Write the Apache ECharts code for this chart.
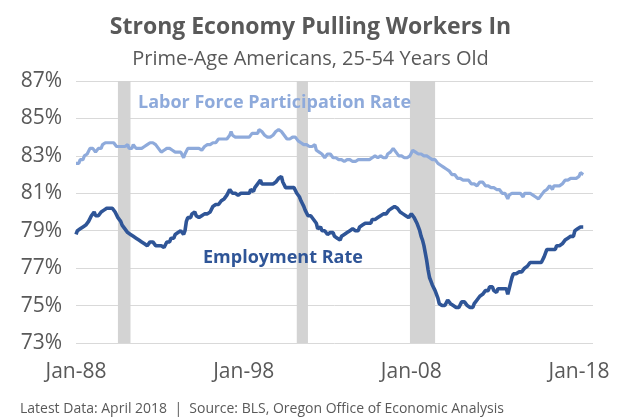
<!DOCTYPE html>
<html>
<head>
<meta charset="utf-8">
<title>Strong Economy Pulling Workers In</title>
<script src="https://cdn.jsdelivr.net/npm/echarts@6/dist/echarts.min.js"></script>
<style>
  html, body { margin: 0; padding: 0; background: #fff; }
  #chart { width: 621px; height: 419px; }
</style>
</head>
<body>
<div id="chart"></div>
<script>
// monthly data, Jan-88 .. Apr-18 (one row per year)
var employmentRate = [
  78.8, 79.0, 78.9, 79.1, 79.0, 79.2, 79.1, 79.3, 79.2, 79.5, 79.6, 79.8, // 1988
  79.9, 80.0, 79.8, 79.9, 79.8, 79.9, 80.0, 79.9, 80.1, 80.0, 80.2, 80.1, // 1989
  80.2, 80.1, 80.2, 80.2, 80.0, 79.9, 79.7, 79.6, 79.5, 79.3, 79.2, 79.1, // 1990
  79.0, 78.9, 79.0, 78.8, 78.7, 78.7, 78.6, 78.6, 78.5, 78.5, 78.4, 78.4, // 1991
  78.3, 78.3, 78.2, 78.2, 78.3, 78.4, 78.3, 78.4, 78.3, 78.2, 78.3, 78.2, // 1992
  78.2, 78.2, 78.1, 78.1, 78.2, 78.4, 78.5, 78.4, 78.6, 78.7, 78.6, 78.8, // 1993
  78.9, 78.9, 78.8, 79.0, 78.9, 78.8, 79.0, 79.5, 79.7, 79.8, 79.7, 79.9, // 1994
  79.9, 80.0, 79.8, 79.9, 79.7, 79.7, 79.8, 79.7, 79.9, 79.8, 79.9, 80.0, // 1995
  80.0, 80.1, 80.3, 80.2, 80.4, 80.5, 80.4, 80.5, 80.6, 80.6, 80.7, 80.8, // 1996
  80.9, 81.0, 81.2, 81.1, 81.0, 81.1, 81.0, 81.0, 80.9, 81.0, 81.0, 81.1, // 1997
  81.0, 81.0, 81.0, 81.1, 81.0, 81.2, 81.2, 81.1, 81.3, 81.4, 81.5, 81.6, // 1998
  81.7, 81.5, 81.4, 81.5, 81.4, 81.5, 81.4, 81.5, 81.6, 81.5, 81.6, 81.6, // 1999
  81.7, 81.8, 81.8, 81.9, 81.6, 81.5, 81.3, 81.4, 81.3, 81.4, 81.3, 81.4, // 2000
  81.3, 81.2, 81.0, 80.9, 80.8, 80.6, 80.5, 80.3, 80.1, 80.0, 79.8, 79.7, // 2001
  79.8, 79.7, 79.6, 79.7, 79.4, 79.1, 79.2, 79.2, 79.0, 78.9, 79.0, 78.9, // 2002
  78.8, 78.9, 78.9, 78.8, 78.9, 78.7, 78.7, 78.6, 78.6, 78.5, 78.7, 78.7, // 2003
  78.8, 78.8, 78.9, 78.8, 79.0, 78.9, 79.1, 79.0, 79.0, 79.1, 79.0, 79.2, // 2004
  79.2, 79.3, 79.2, 79.4, 79.3, 79.4, 79.5, 79.4, 79.6, 79.5, 79.6, 79.6, // 2005
  79.7, 79.6, 79.8, 79.7, 79.9, 79.8, 79.9, 80.0, 80.1, 80.0, 80.2, 80.2, // 2006
  80.3, 80.2, 80.2, 80.1, 80.0, 80.0, 79.9, 79.8, 79.8, 79.7, 79.7, 79.8, // 2007
  79.9, 79.8, 79.7, 79.6, 79.4, 79.2, 79.0, 78.7, 78.5, 78.2, 77.8, 77.4, // 2008
  76.9, 76.5, 76.3, 76.1, 76.0, 75.8, 75.7, 75.4, 75.1, 75.0, 75.0, 74.9, // 2009
  75.0, 75.1, 75.3, 75.2, 75.1, 75.0, 75.0, 75.1, 74.9, 75.0, 74.9, 75.0, // 2010
  75.2, 75.3, 75.2, 75.1, 75.0, 75.0, 74.9, 75.0, 74.9, 75.1, 75.2, 75.3, // 2011
  75.4, 75.5, 75.6, 75.6, 75.7, 75.8, 75.7, 75.8, 76.0, 75.9, 76.0, 75.8, // 2012
  75.8, 75.7, 75.9, 75.8, 75.9, 76.0, 75.9, 76.0, 75.9, 75.6, 75.9, 76.2, // 2013
  76.5, 76.7, 76.6, 76.7, 76.6, 76.8, 76.9, 76.8, 76.9, 77.0, 77.0, 77.1, // 2014
  77.2, 77.3, 77.2, 77.3, 77.4, 77.3, 77.2, 77.3, 77.2, 77.3, 77.4, 77.6, // 2015
  77.8, 78.0, 77.9, 78.0, 77.9, 78.0, 78.1, 78.0, 78.2, 78.1, 78.2, 78.3, // 2016
  78.3, 78.4, 78.5, 78.4, 78.6, 78.5, 78.7, 78.8, 78.7, 79.0, 78.9, 79.1, // 2017
  79.0, 79.2, 79.1, 79.2                                                  // 2018
];

var participationRate = [
  82.6, 82.7, 82.6, 82.8, 82.7, 82.8, 83.0, 82.9, 83.1, 83.2, 83.4, 83.3, // 1988
  83.4, 83.3, 83.2, 83.2, 83.4, 83.3, 83.4, 83.6, 83.5, 83.7, 83.8, 83.7, // 1989
  83.8, 83.7, 83.6, 83.7, 83.6, 83.5, 83.6, 83.5, 83.6, 83.5, 83.4, 83.5, // 1990
  83.5, 83.6, 83.4, 83.5, 83.4, 83.6, 83.5, 83.4, 83.5, 83.4, 83.3, 83.4, // 1991
  83.4, 83.5, 83.4, 83.6, 83.5, 83.7, 83.8, 83.7, 83.6, 83.6, 83.5, 83.4, // 1992
  83.3, 83.2, 83.1, 83.3, 83.2, 83.4, 83.5, 83.4, 83.4, 83.3, 83.4, 83.2, // 1993
  83.3, 83.2, 83.1, 83.2, 83.1, 82.9, 83.1, 83.2, 83.4, 83.3, 83.4, 83.3, // 1994
  83.4, 83.5, 83.4, 83.3, 83.4, 83.4, 83.3, 83.4, 83.5, 83.5, 83.6, 83.5, // 1995
  83.6, 83.5, 83.7, 83.6, 83.7, 83.8, 83.9, 84.0, 83.9, 84.0, 83.9, 84.0, // 1996
  83.9, 84.0, 84.1, 84.3, 84.1, 84.0, 84.0, 83.9, 84.0, 84.1, 84.0, 84.1, // 1997
  84.0, 84.1, 84.0, 84.1, 84.0, 84.1, 84.2, 84.1, 84.2, 84.3, 84.2, 84.4, // 1998
  84.5, 84.3, 84.2, 84.1, 84.1, 84.0, 84.1, 84.0, 84.0, 84.1, 84.2, 84.3, // 1999
  84.3, 84.4, 84.3, 84.3, 84.2, 84.1, 84.0, 83.9, 83.8, 83.9, 84.0, 84.0, // 2000
  83.9, 84.0, 83.9, 83.8, 83.7, 83.7, 83.6, 83.6, 83.5, 83.6, 83.6, 83.5, // 2001
  83.6, 83.5, 83.6, 83.6, 83.3, 83.3, 83.2, 83.1, 83.1, 83.0, 82.9, 83.0, // 2002
  83.1, 83.0, 83.1, 83.0, 82.9, 83.0, 82.9, 82.8, 82.8, 82.9, 82.8, 82.8, // 2003
  82.7, 82.8, 82.8, 82.9, 82.8, 82.8, 82.7, 82.8, 82.7, 82.7, 82.8, 82.7, // 2004
  82.8, 82.7, 82.8, 82.9, 82.8, 82.9, 82.8, 82.8, 82.9, 82.9, 83.0, 82.9, // 2005
  82.9, 82.9, 83.0, 82.9, 82.9, 83.0, 82.9, 83.1, 83.0, 83.2, 83.3, 83.4, // 2006
  83.3, 83.2, 83.1, 83.0, 82.9, 83.0, 83.0, 82.9, 82.8, 82.9, 82.8, 83.0, // 2007
  83.1, 83.3, 83.2, 83.2, 83.1, 83.1, 83.2, 83.1, 83.1, 83.0, 83.1, 83.0, // 2008
  83.0, 82.9, 83.0, 82.8, 82.9, 82.8, 82.7, 82.6, 82.7, 82.5, 82.5, 82.4, // 2009
  82.5, 82.3, 82.4, 82.2, 82.1, 82.0, 81.9, 82.0, 81.9, 81.8, 81.9, 81.8, // 2010
  81.8, 81.7, 81.8, 81.7, 81.6, 81.7, 81.6, 81.5, 81.6, 81.5, 81.6, 81.4, // 2011
  81.5, 81.6, 81.5, 81.6, 81.5, 81.4, 81.5, 81.4, 81.4, 81.3, 81.4, 81.3, // 2012
  81.3, 81.2, 81.1, 81.2, 81.1, 81.0, 81.1, 81.0, 80.9, 80.7, 80.9, 81.0, // 2013
  81.0, 81.1, 81.0, 80.9, 81.0, 80.9, 81.0, 80.9, 80.8, 81.0, 80.9, 81.0, // 2014
  80.9, 81.0, 80.9, 80.9, 81.0, 80.8, 80.9, 80.7, 80.8, 80.9, 81.0, 81.1, // 2015
  81.0, 81.2, 81.3, 81.4, 81.3, 81.2, 81.4, 81.5, 81.4, 81.5, 81.4, 81.5, // 2016
  81.5, 81.6, 81.7, 81.6, 81.7, 81.7, 81.8, 81.7, 81.8, 81.7, 81.8, 81.9, // 2017
  81.9, 82.1, 82.2, 82.0                                                  // 2018
];

// recessions as [first month, last month], months counted from Jan-88
var recessions = [[30, 39], [158, 166], [239, 257]];

var yTicks = [73, 75, 77, 79, 81, 83, 85, 87];
var xTickMonths = [0, 120, 240, 360];
var xTickLabels = ['Jan-88', 'Jan-98', 'Jan-08', 'Jan-18'];

var gray = '#595959';
var font = 'Open Sans';

function toPairs(arr) {
  return arr.map(function (v, i) { return [i, v]; });
}

var chart = echarts.init(document.getElementById('chart'));

var option = {
  backgroundColor: '#fff',
  animation: false,
  textStyle: { fontFamily: font },
  grid: { left: 76, right: 28, top: 81, bottom: 76 },
  xAxis: {
    type: 'value',
    min: 0,
    max: 370,
    interval: 120,
    axisLine: { show: false },
    axisTick: { show: false },
    splitLine: { show: false },
    axisLabel: {
      color: gray,
      fontSize: 21,
      margin: 19,
      showMaxLabel: false,
      formatter: function (v) {
        var i = xTickMonths.indexOf(v);
        return i >= 0 ? xTickLabels[i] : '';
      }
    }
  },
  yAxis: {
    type: 'value',
    min: yTicks[0],
    max: yTicks[yTicks.length - 1],
    interval: 2,
    axisLine: { show: false },
    axisTick: { show: false },
    axisLabel: { color: gray, fontSize: 21, margin: 14, formatter: '{value}%' },
    splitLine: { lineStyle: { color: '#d9d9d9', width: 1 } }
  },
  series: [
    {
      name: 'Recession',
      type: 'line',
      data: [],
      silent: true,
      markArea: {
        silent: true,
        itemStyle: { color: '#d3d3d3' },
        data: recessions.map(function (r) {
          return [{ xAxis: r[0] }, { xAxis: r[1] }];
        })
      }
    },
    {
      name: 'Labor Force Participation Rate',
      type: 'line',
      data: toPairs(participationRate),
      showSymbol: false,
      lineStyle: { color: '#8eaadb', width: 3.2 }
    },
    {
      name: 'Employment Rate',
      type: 'line',
      data: toPairs(employmentRate),
      showSymbol: false,
      lineStyle: { color: '#2f5597', width: 3.6 }
    }
  ],
  graphic: [
    {
      type: 'text', left: 'center', top: 16, z: 100,
      style: { text: 'Strong Economy Pulling Workers In', fill: gray, font: 'bold 23px "Open Sans"' }
    },
    {
      type: 'text', left: 'center', top: 49, z: 100,
      style: { text: 'Prime-Age Americans, 25-54 Years Old', fill: gray, font: '20px "Open Sans"' }
    },
    {
      type: 'text', left: 138, top: 94, z: 100,
      style: { text: 'Labor Force Participation Rate', fill: '#8eaadb', font: 'bold 18px "Open Sans"' }
    },
    {
      type: 'text', left: 203, top: 249, z: 100,
      style: { text: 'Employment Rate', fill: '#2f5597', font: 'bold 18px "Open Sans"' }
    },
    {
      type: 'text', left: 20, top: 402, z: 100,
      style: { text: 'Latest Data: April 2018  |  Source: BLS, Oregon Office of Economic Analysis', fill: gray, font: '14px "Open Sans"' }
    }
  ]
};

chart.setOption(option);
</script>
</body>
</html>
